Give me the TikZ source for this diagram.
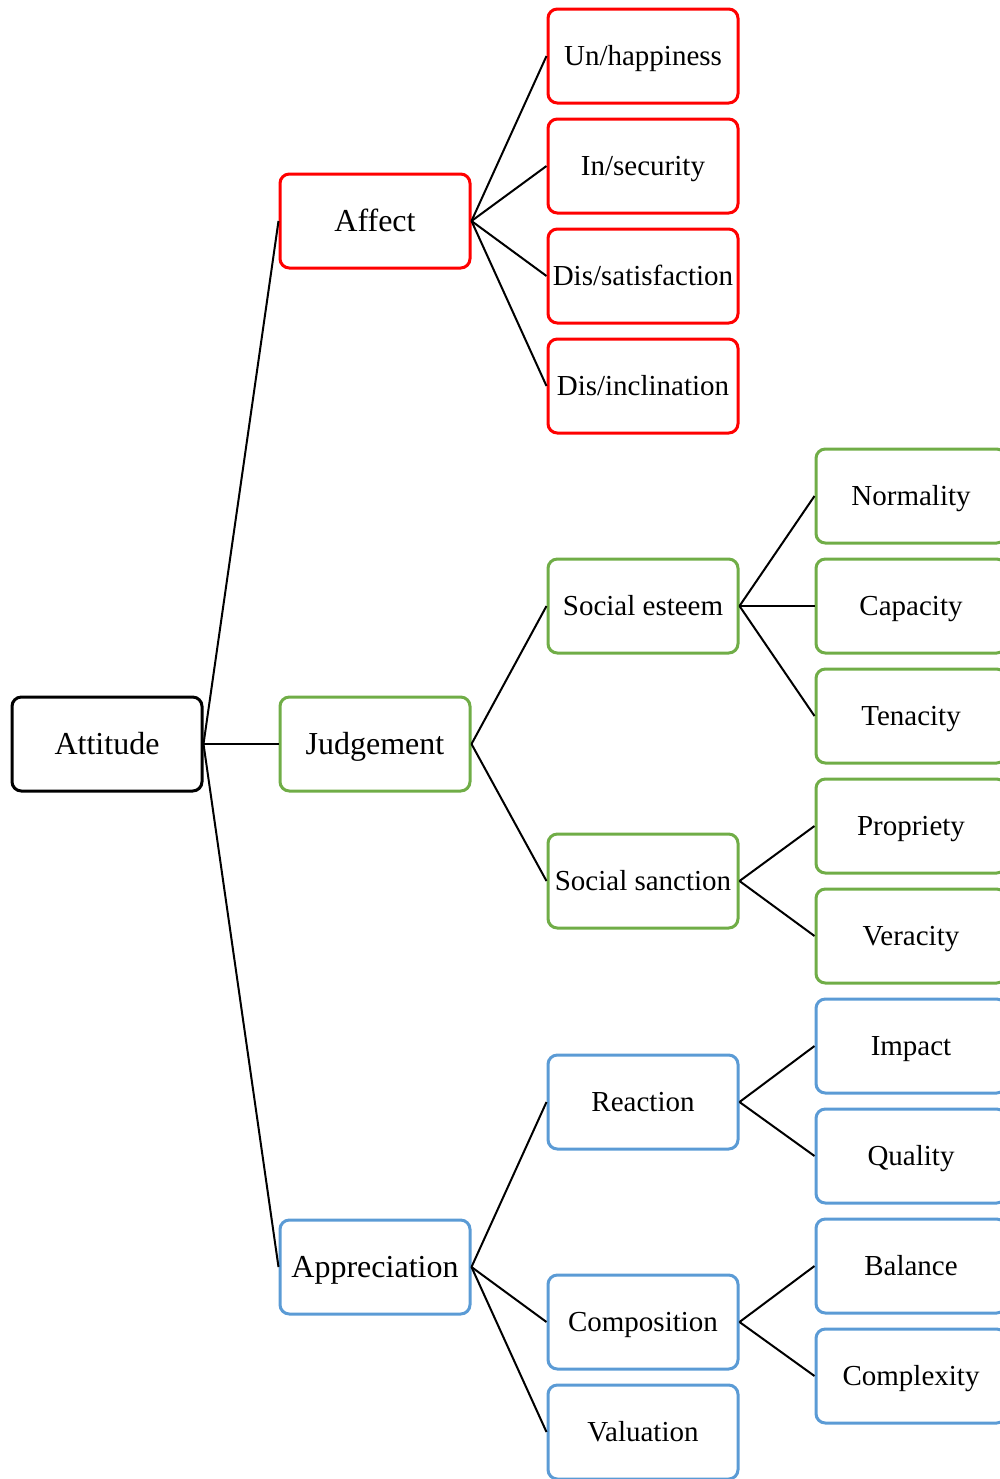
\documentclass[tikz,border=0pt]{standalone}
\usepackage{fontspec}
\setmainfont{Liberation Serif}
\usepackage{tikz}
\usetikzlibrary{positioning}
\definecolor{affred}{HTML}{FF0000}
\definecolor{judgreen}{HTML}{70AD47}
\definecolor{appblue}{HTML}{5B9BD5}

\tikzset{
  box/.style={draw, line width=2.25pt, rounded corners=7pt, minimum width=142.5pt,
    minimum height=70.5pt, inner sep=1pt, text depth=0pt},
  big/.style={font=\fontsize{24}{28}\selectfont, text height=16pt},
  small/.style={font=\fontsize{21.75}{26}\selectfont, text height=14.5pt},
  link/.style={line width=1.5pt, black}
}

\begin{document}
\begin{tikzpicture}[x=0.75pt, y=-0.75pt]
    \clip (0,0) rectangle (1000,1479);
    % root and first level
    \node (attitude) [box, big] at (107,744) {Attitude};
    \node (affect) [box, big, affred] at (375,221) {\textcolor{black}{Affect}};
    \node (judgement) [box, big, judgreen] at (375,744) {\textcolor{black}{Judgement}};
    \node (appreciation) [box, big, appblue] at (375,1267) {\textcolor{black}{Appreciation}};
    % affect
    \node (unhappy) [box, small, affred] at (643,56) {\textcolor{black}{Un/happiness}};
    \node (insecure) [box, small, affred] at (643,166) {\textcolor{black}{In/security}};
    \node (dissat) [box, small, affred] at (643,276) {\textcolor{black}{Dis/satisfaction}};
    \node (disincl) [box, small, affred] at (643,386) {\textcolor{black}{Dis/inclination}};
    % judgement
    \node (esteem) [box, small, judgreen] at (643,606) {\textcolor{black}{Social esteem}};
    \node (sanction) [box, small, judgreen] at (643,881) {\textcolor{black}{Social sanction}};
    \node (normality) [box, small, judgreen] at (911,496) {\textcolor{black}{Normality}};
    \node (capacity) [box, small, judgreen] at (911,606) {\textcolor{black}{Capacity}};
    \node (tenacity) [box, small, judgreen] at (911,716) {\textcolor{black}{Tenacity}};
    \node (propriety) [box, small, judgreen] at (911,826) {\textcolor{black}{Propriety}};
    \node (veracity) [box, small, judgreen] at (911,936) {\textcolor{black}{Veracity}};
    % appreciation
    \node (reaction) [box, small, appblue] at (643,1102) {\textcolor{black}{Reaction}};
    \node (composition) [box, small, appblue] at (643,1322) {\textcolor{black}{Composition}};
    \node (valuation) [box, small, appblue] at (643,1432) {\textcolor{black}{Valuation}};
    \node (impact) [box, small, appblue] at (911,1046) {\textcolor{black}{Impact}};
    \node (quality) [box, small, appblue] at (911,1156) {\textcolor{black}{Quality}};
    \node (balance) [box, small, appblue] at (911,1266) {\textcolor{black}{Balance}};
    \node (complexity) [box, small, appblue] at (911,1376) {\textcolor{black}{Complexity}};
    % links
    \foreach \kid in {affect, judgement, appreciation}
      \draw[link] (attitude.east) -- (\kid.west);
    \foreach \kid in {unhappy, insecure, dissat, disincl}
      \draw[link] (affect.east) -- (\kid.west);
    \foreach \kid in {esteem, sanction}
      \draw[link] (judgement.east) -- (\kid.west);
    \foreach \kid in {normality, capacity, tenacity}
      \draw[link] (esteem.east) -- (\kid.west);
    \foreach \kid in {propriety, veracity}
      \draw[link] (sanction.east) -- (\kid.west);
    \foreach \kid in {reaction, composition, valuation}
      \draw[link] (appreciation.east) -- (\kid.west);
    \foreach \kid in {impact, quality}
      \draw[link] (reaction.east) -- (\kid.west);
    \foreach \kid in {balance, complexity}
      \draw[link] (composition.east) -- (\kid.west);
  \end{tikzpicture}
\end{document}
